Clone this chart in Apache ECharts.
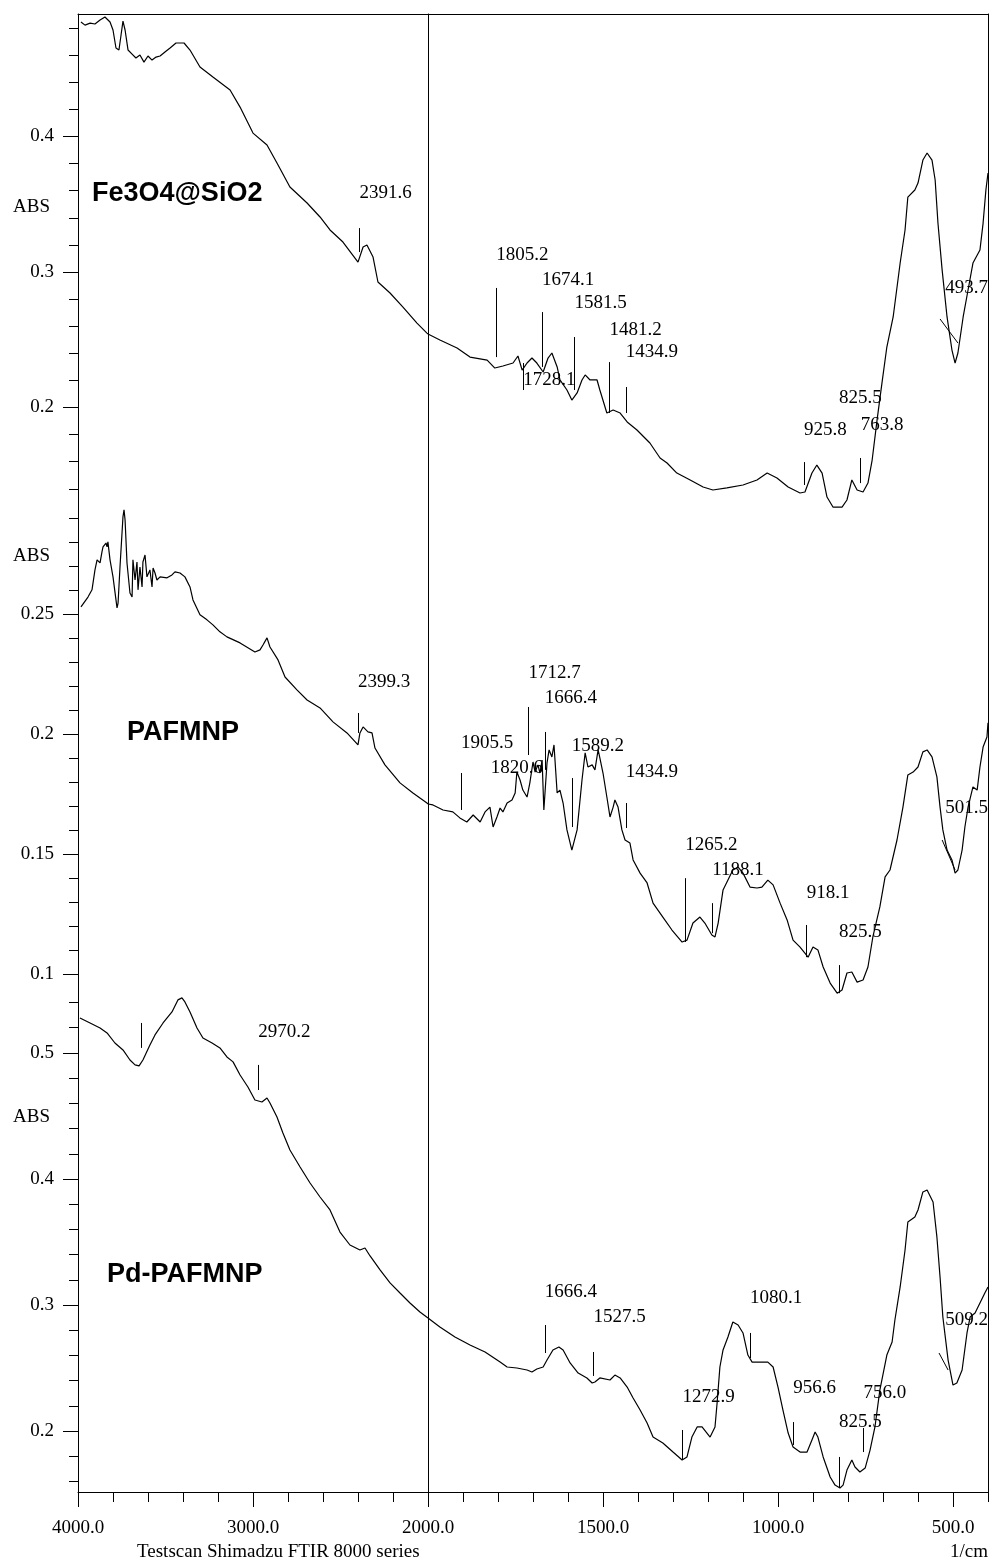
<!DOCTYPE html>
<html><head><meta charset="utf-8">
<script src="https://cdn.jsdelivr.net/npm/echarts@6/dist/echarts.min.js"></script>
<style>html,body{margin:0;padding:0;background:#fff}#c{width:992px;height:1562px}</style>
</head><body><div id="c"></div>
<script>
// ---------- DATA (wavenumber in 1/cm, absorbance) ----------
const feWn = [3983,3960,3931,3903,3874,3846,3817,3800,3783,3766,3754,3743,3731,3714,3691,3669,3646,3623,3600,3577,3554,3531,3503,3474,3440,3394,3360,3303,3229,3131,3074,3000,2920,2863,2789,2691,2617,2560,2486,2400,2371,2349,2314,2286,2217,2143,2063,2006,2000,
 1966,1917,1880,1831,1809,1786,1757,1743,1731,1717,1703,1689,1671,1657,1646,1631,1623,1603,1589,1574,1560,1551,1537,1517,1509,1489,1471,1451,1431,1403,1366,1337,1317,1289,1251,1214,1186,1146,1100,1060,1031,1003,971,937,923,903,889,874,860,843,817,803,789,774,757,743,731,717,703,689,671,651,637,629,609,600,586,574,560,551,543,531,517,503,494,486,471,457,443,423,414,406,400];
const feAbs = [0.4845,0.4822,0.4837,0.4830,0.4859,0.4882,0.4845,0.4786,0.4653,0.4638,0.4749,0.4852,0.4786,0.4638,0.4608,0.4579,0.4601,0.4549,0.4594,0.4564,0.4586,0.4594,0.4623,0.4653,0.4690,0.4690,0.4638,0.4513,0.4439,0.4343,0.4217,0.4025,0.3937,0.3804,0.3627,0.3509,0.3406,0.3310,0.3221,0.3073,0.3184,0.3199,0.3110,0.2926,0.2845,0.2741,0.2623,0.2549,0.2542,
 0.2498,0.2439,0.2372,0.2350,0.2291,0.2306,0.2328,0.2380,0.2276,0.2328,0.2365,0.2328,0.2262,0.2365,0.2402,0.2299,0.2203,0.2129,0.2055,0.2107,0.2203,0.2240,0.2203,0.2203,0.2129,0.1959,0.1981,0.1959,0.1893,0.1834,0.1738,0.1627,0.1590,0.1516,0.1465,0.1413,0.1391,0.1406,0.1428,0.1465,0.1516,0.1479,0.1413,0.1369,0.1376,0.1516,0.1575,0.1516,0.1339,0.1265,0.1265,0.1317,0.1465,0.1391,0.1376,0.1442,0.1612,0.1907,0.2180,0.2446,0.2668,0.3066,0.3310,0.3553,0.3605,0.3656,0.3826,0.3878,0.3826,0.3679,0.3361,0.3014,0.2668,0.2424,0.2328,0.2402,0.2668,0.2867,0.3066,0.3162,0.3361,0.3605,0.3730];

const paWn = [3983,3943,3920,3903,3891,3874,3863,3857,3840,3834,3829,3817,3800,3777,3771,3760,3743,3737,3731,3720,3703,3691,3686,3674,3663,3657,3646,3634,3629,3617,3606,3589,3577,3571,3560,3549,3531,3491,3463,3446,3417,3389,3360,3343,3303,3263,3229,3189,3149,3074,2989,2960,2943,2920,2903,2857,2817,2749,2691,2617,2543,2463,2400,2389,2371,2343,2320,2303,2246,2160,2086,2006,2000,
 1986,1957,1929,1909,1889,1871,1851,1837,1823,1814,1803,1794,1786,1774,1760,1751,1746,1737,1729,1717,1709,1700,1694,1686,1680,1674,1669,1660,1654,1646,1640,1631,1623,1614,1603,1589,1574,1560,1551,1543,1531,1523,1514,1509,1500,1489,1480,1471,1466,1457,1446,1437,1423,1414,1394,1374,1357,1329,1303,1274,1260,1243,1223,1209,1189,1180,1171,1157,1143,1129,1114,1100,1080,1060,1046,1029,1014,994,974,957,937,914,900,886,871,851,831,817,803,789,774,757,743,729,709,694,680,660,643,629,614,600,586,574,560,546,537,529,517,503,494,486,474,466,457,443,431,423,414,403,400];
const paAbs = [0.2529,0.2570,0.2600,0.2683,0.2725,0.2712,0.2758,0.2779,0.2795,0.2779,0.2800,0.2725,0.2654,0.2525,0.2545,0.2695,0.2904,0.2933,0.2891,0.2712,0.2587,0.2570,0.2725,0.2641,0.2716,0.2600,0.2695,0.2612,0.2716,0.2745,0.2654,0.2683,0.2612,0.2691,0.2670,0.2641,0.2654,0.2650,0.2662,0.2675,0.2670,0.2654,0.2612,0.2558,0.2496,0.2475,0.2454,0.2425,0.2404,0.2379,0.2341,0.2350,0.2370,0.2400,0.2362,0.2308,0.2237,0.2183,0.2141,0.2108,0.2050,0.2004,0.1954,0.2004,0.2029,0.2008,0.2004,0.1941,0.1871,0.1796,0.1754,0.1712,0.1708,
 0.1704,0.1683,0.1675,0.1650,0.1633,0.1662,0.1633,0.1675,0.1695,0.1612,0.1654,0.1691,0.1675,0.1712,0.1725,0.1754,0.1841,0.1808,0.1766,0.1737,0.1796,0.1883,0.1841,0.1871,0.1837,0.1891,0.1683,0.1879,0.1933,0.1904,0.1954,0.1754,0.1766,0.1712,0.1600,0.1516,0.1600,0.1808,0.1921,0.1862,0.1871,0.1850,0.1933,0.1900,0.1837,0.1737,0.1654,0.1695,0.1725,0.1695,0.1600,0.1558,0.1545,0.1475,0.1420,0.1379,0.1295,0.1237,0.1183,0.1133,0.1141,0.1212,0.1237,0.1212,0.1162,0.1154,0.1212,0.1350,0.1391,0.1433,0.1445,0.1420,0.1362,0.1358,0.1362,0.1391,0.1371,0.1295,0.1225,0.1141,0.1112,0.1070,0.1112,0.1100,0.1029,0.0962,0.0920,0.0933,0.1004,0.1008,0.0966,0.0975,0.1029,0.1154,0.1279,0.1404,0.1433,0.1558,0.1695,0.1829,0.1841,0.1862,0.1925,0.1933,0.1904,0.1821,0.1695,0.1600,0.1516,0.1475,0.1420,0.1433,0.1516,0.1612,0.1695,0.1779,0.1766,0.1862,0.1945,0.1987,0.2046];

const pdWn = [3989,3931,3874,3834,3789,3743,3703,3674,3651,3629,3589,3560,3514,3463,3429,3406,3389,3360,3320,3286,3234,3189,3149,3114,3074,3029,2989,2949,2920,2903,2863,2829,2789,2731,2674,2617,2560,2503,2446,2389,2360,2331,2274,2217,2160,2103,2046,2000,
 1966,1923,1880,1837,1794,1774,1746,1717,1703,1689,1671,1660,1643,1626,1614,1594,1571,1546,1531,1523,1509,1480,1466,1451,1431,1414,1394,1374,1357,1329,1300,1274,1260,1246,1231,1217,1203,1194,1180,1174,1166,1157,1143,1129,1114,1100,1086,1074,1057,1029,1014,1000,986,971,957,937,917,903,894,886,871,851,837,823,814,803,789,780,766,751,737,723,709,689,674,666,651,637,629,609,600,586,574,557,546,537,529,514,500,489,474,460,451,437,423,409,400];
const pdAbs = [0.5278,0.5238,0.5198,0.5159,0.5079,0.5024,0.4944,0.4905,0.4897,0.4944,0.5063,0.5143,0.5238,0.5325,0.5421,0.5437,0.5405,0.5325,0.5198,0.5119,0.5079,0.5040,0.4968,0.4929,0.4825,0.4730,0.4627,0.4611,0.4643,0.4603,0.4492,0.4365,0.4230,0.4095,0.3968,0.3857,0.3754,0.3579,0.3476,0.3436,0.3452,0.3389,0.3278,0.3175,0.3095,0.3016,0.2944,0.2897,
 0.2826,0.2746,0.2682,0.2627,0.2547,0.2508,0.2500,0.2484,0.2468,0.2492,0.2508,0.2563,0.2643,0.2667,0.2643,0.2540,0.2460,0.2421,0.2381,0.2389,0.2421,0.2405,0.2444,0.2421,0.2349,0.2262,0.2167,0.2064,0.1952,0.1905,0.1833,0.1770,0.1794,0.1952,0.2032,0.2032,0.1984,0.1952,0.2032,0.2222,0.2508,0.2643,0.2746,0.2865,0.2841,0.2778,0.2603,0.2547,0.2547,0.2547,0.2508,0.2349,0.2167,0.1984,0.1873,0.1833,0.1833,0.1929,0.1992,0.1952,0.1794,0.1635,0.1571,0.1548,0.1571,0.1690,0.1770,0.1714,0.1675,0.1706,0.1849,0.2032,0.2325,0.2603,0.2706,0.2881,0.3143,0.3436,0.3659,0.3698,0.3754,0.3897,0.3913,0.3817,0.3540,0.3222,0.2905,0.2563,0.2365,0.2381,0.2484,0.2778,0.2905,0.2937,0.3016,0.3095,0.3143];

// peak picks: wavenumber, marker line top/bottom (abs), label level (abs)
const fePeakWn    = [2391.6, 1805.2, 1728.1, 1674.1, 1581.5, 1481.2, 1434.9, 925.8, 825.5, 763.8];
const fePeakTop   = [0.3324, 0.2882, 0.2328, 0.2704, 0.2520, 0.2335, 0.2151, 0.1597, 0.1811, 0.1627];
const fePeakBot   = [0.3147, 0.2372, 0.2129, 0.2299, 0.2129, 0.1959, 0.1959, 0.1428, 0.1317, 0.1442];
const fePeakLab   = [0.3583, 0.3125, 0.2203, 0.2941, 0.2771, 0.2572, 0.2409, 0.1834, 0.2070, 0.1871];
const feEdgePeak  = [493.7, 0.2882];               // label value, label level
const feEdgeLine  = [537, 0.2653, 486, 0.2476];    // tilted pick line

const paPeakWn    = [2399.3, 1905.5, 1820.6, 1712.7, 1666.4, 1589.2, 1434.9, 1265.2, 1188.1, 918.1, 825.5];
const paPeakTop   = [0.2087, 0.1837, null,   0.2112, 0.2008, 0.1816, 0.1712, 0.1399, 0.1295, 0.1204, 0.1037];
const paPeakBot   = [0.2004, 0.1683, null,   0.1912, 0.1850, 0.1612, 0.1608, 0.1133, 0.1170, 0.1070, 0.0920];
const paPeakLab   = [0.2216, 0.1962, 0.1858, 0.2254, 0.2150, 0.1950, 0.1841, 0.1537, 0.1433, 0.1337, 0.1175];
const paEdgePeak  = [501.5, 0.1691];
const paEdgeLine  = [531, 0.1558, 494, 0.1433];

const pdPeakWn    = [3640, 2970.2, 1666.4, 1527.5, 1272.9, 1080.1, 956.6, 825.5, 756.0];
const pdPeakTop   = [0.5238, 0.4905, 0.2841, 0.2627, 0.2008, 0.2778, 0.2071, 0.1794, 0.2024];
const pdPeakBot   = [0.5040, 0.4706, 0.2619, 0.2437, 0.1770, 0.2579, 0.1889, 0.1548, 0.1833];
const pdPeakLab   = [null,   0.5167, 0.3103, 0.2905, 0.2270, 0.3056, 0.2341, 0.2071, 0.2302];
const pdEdgePeak  = [509.2, 0.2881];
const pdEdgeLine  = [540, 0.2619, 514, 0.2484];

// axis ranges and ticks
const feRange = [0.1354, 0.4904];
const paRange = [0.0904, 0.2995];
const pdRange = [0.1516, 0.5444];
const feMajor = [0.2, 0.3, 0.4];
const feMinor = [0.14,0.16,0.18,0.22,0.24,0.26,0.28,0.32,0.34,0.36,0.38,0.42,0.44,0.46,0.48];
const paMajor = [0.1, 0.15, 0.2, 0.25];
const paMinor = [0.11,0.12,0.13,0.14,0.16,0.17,0.18,0.19,0.21,0.22,0.23,0.24,0.26,0.27,0.28,0.29];
const pdMajor = [0.2, 0.3, 0.4, 0.5];
const pdMinor = [0.16,0.18,0.22,0.24,0.26,0.28,0.32,0.34,0.36,0.38,0.42,0.44,0.46,0.48,0.52,0.54];
const xMajorLeft  = [4000, 3000, 2000];
const xMinorLeft  = [3800, 3600, 3400, 3200, 2800, 2600, 2400, 2200];
const xMajorRight = [1500, 1000, 500];
const xMinorRight = [1900,1800,1700,1600,1400,1300,1200,1100,900,800,700,600,400];
const sampleNames = ['Fe3O4@SiO2', 'PAFMNP', 'Pd-PAFMNP'];

// ---------- CHART ----------
const SERIF = 'Liberation Serif';
const SANS = 'Liberation Sans';
const FS = 19;
const BLACK = '#000';

const panels = [
  {wn: feWn, abs: feAbs, range: feRange, major: feMajor, minor: feMinor,
   pk: [fePeakWn, fePeakTop, fePeakBot, fePeakLab], edge: feEdgePeak, edgeLine: feEdgeLine, top: 14, height: 481},
  {wn: paWn, abs: paAbs, range: paRange, major: paMajor, minor: paMinor,
   pk: [paPeakWn, paPeakTop, paPeakBot, paPeakLab], edge: paEdgePeak, edgeLine: paEdgeLine, top: 495, height: 502},
  {wn: pdWn, abs: pdAbs, range: pdRange, major: pdMajor, minor: pdMinor,
   pk: [pdPeakWn, pdPeakTop, pdPeakBot, pdPeakLab], edge: pdEdgePeak, edgeLine: pdEdgeLine, top: 997, height: 495}
];

const grid = [], xAxis = [], yAxis = [], series = [];
const lineSt = {color: BLACK, width: 1};
const labFont = {color: BLACK, fontFamily: SERIF, fontSize: FS, opacity: 1};
const fmtY = v => String(parseFloat(Number(v).toFixed(2)));
const fmtX = v => Number(v).toFixed(1);

panels.forEach((p, i) => {
  const isTop = i === 0, isBottom = i === panels.length - 1;
  const gL = grid.length; grid.push({left: 78, width: 350, top: p.top, height: p.height});
  const gR = grid.length; grid.push({left: 428, width: 560, top: p.top, height: p.height});

  // X axes (data)
  const xL = xAxis.length;
  xAxis.push({gridIndex: gL, type: 'value', min: 2000, max: 4000, inverse: true, position: 'bottom', show: isBottom,
    axisLine: {onZero: false, lineStyle: lineSt}, splitLine: {show: false},
    axisTick: {show: true, length: 15, customValues: xMajorLeft, lineStyle: lineSt},
    axisLabel: {show: true, customValues: xMajorLeft, formatter: fmtX, margin: 27, ...labFont}});
  const xR = xAxis.length;
  xAxis.push({gridIndex: gR, type: 'value', min: 400, max: 2000, inverse: true, position: 'bottom', show: isBottom,
    axisLine: {onZero: false, lineStyle: lineSt}, splitLine: {show: false},
    axisTick: {show: true, length: 15, customValues: xMajorRight, lineStyle: lineSt},
    axisLabel: {show: true, customValues: xMajorRight, formatter: fmtX, margin: 27, ...labFont}});
  if (isBottom) {
    xAxis.push({gridIndex: gL, type: 'value', min: 2000, max: 4000, inverse: true, position: 'bottom',
      axisLine: {show: false, onZero: false}, splitLine: {show: false},
      axisTick: {show: true, length: 10, customValues: xMinorLeft, lineStyle: lineSt}, axisLabel: {show: false}});
    xAxis.push({gridIndex: gR, type: 'value', min: 400, max: 2000, inverse: true, position: 'bottom',
      axisLine: {show: false, onZero: false}, splitLine: {show: false},
      axisTick: {show: true, length: 10, customValues: xMinorRight, lineStyle: lineSt}, axisLabel: {show: false}});
  }
  if (isTop) {
    [[gL, 2000, 4000], [gR, 400, 2000]].forEach(([g, mn, mx]) => xAxis.push({gridIndex: g, type: 'value', min: mn, max: mx, inverse: true,
      position: 'top', axisLine: {show: true, onZero: false, lineStyle: lineSt}, axisTick: {show: false}, axisLabel: {show: false}, splitLine: {show: false}}));
  }

  // Y axes
  const yL = yAxis.length;
  yAxis.push({gridIndex: gL, type: 'value', min: p.range[0], max: p.range[1], position: 'left',
    axisLine: {show: true, onZero: false, lineStyle: lineSt}, splitLine: {show: false},
    axisTick: {show: true, length: 15, customValues: p.major, lineStyle: lineSt},
    axisLabel: {show: true, customValues: p.major, formatter: fmtY, margin: 24, ...labFont}});
  yAxis.push({gridIndex: gL, type: 'value', min: p.range[0], max: p.range[1], position: 'left',
    axisLine: {show: false, onZero: false}, splitLine: {show: false},
    axisTick: {show: true, length: 9, customValues: p.minor, lineStyle: lineSt}, axisLabel: {show: false}});
  const yR = yAxis.length;
  yAxis.push({gridIndex: gR, type: 'value', min: p.range[0], max: p.range[1], position: 'left',
    axisLine: {show: true, onZero: false, lineStyle: lineSt}, splitLine: {show: false},
    axisTick: {show: false}, axisLabel: {show: false}});
  yAxis.push({gridIndex: gR, type: 'value', min: p.range[0], max: p.range[1], position: 'right',
    axisLine: {show: true, onZero: false, lineStyle: lineSt}, splitLine: {show: false},
    axisTick: {show: false}, axisLabel: {show: false}});

  // trace split at 2000 1/cm
  const n = Math.min(p.wn.length, p.abs.length);
  const leftData = [], rightData = [];
  for (let k = 0; k < n; k++) {
    if (p.wn[k] >= 2000) leftData.push([p.wn[k], p.abs[k]]);
    if (p.wn[k] <= 2000) rightData.push([p.wn[k], p.abs[k]]);
  }
  // peak pick lines
  const [pw, pt, pb, pl] = p.pk;
  const mlL = [], mlR = [], labL = [], labR = [];
  pw.forEach((w, k) => {
    if (pt[k] != null && pb[k] != null) {
      (w >= 2000 ? mlL : mlR).push([{coord: [w, pt[k]]}, {coord: [w, pb[k]]}]);
    }
    if (pl[k] != null) (w >= 2000 ? labL : labR).push([w, pl[k], w.toFixed(1)]);
  });
  mlR.push([{coord: [p.edgeLine[0], p.edgeLine[1]]}, {coord: [p.edgeLine[2], p.edgeLine[3]]}]);
  const markLineCfg = data => ({symbol: ['none', 'none'], silent: true, animation: false,
    label: {show: false}, lineStyle: {color: BLACK, width: 1, type: 'solid', opacity: 1}, emphasis: {disabled: true}, data});

  const lineSeries = (xi, yi, data, ml) => ({type: 'line', xAxisIndex: xi, yAxisIndex: yi, data, showSymbol: false,
    symbol: 'none', silent: true, animation: false, clip: false, lineStyle: {color: BLACK, width: 1.2}, emphasis: {disabled: true},
    markLine: markLineCfg(ml)});
  series.push(lineSeries(xL, yL, leftData, mlL));
  series.push(lineSeries(xR, yR, rightData, mlR));

  const labelSeries = (xi, yi, data, pos) => ({type: 'scatter', xAxisIndex: xi, yAxisIndex: yi, data, symbolSize: 0,
    itemStyle: {color: BLACK, opacity: 1}, silent: true, animation: false, clip: false, emphasis: {disabled: true},
    label: {show: true, position: pos, distance: 0, formatter: q => q.value[2], ...labFont}});
  series.push(labelSeries(xL, yL, labL, 'right'));
  series.push(labelSeries(xR, yR, labR, 'right'));
  // edge label, right-aligned at the spectrum end
  series.push(labelSeries(xR, yR, [[400, p.edge[1], p.edge[0].toFixed(1)]], 'left'));
});

const txt = (x, y, text, font, align) => ({type: 'text', x, y, silent: true,
  style: {text, font, fill: BLACK, align: align || 'left', verticalAlign: 'middle'}});
const graphic = [
  txt(13, 207, 'ABS', `${FS}px "${SERIF}"`),
  txt(13, 556, 'ABS', `${FS}px "${SERIF}"`),
  txt(13, 1117, 'ABS', `${FS}px "${SERIF}"`),
  txt(92, 194, sampleNames[0], `bold 27px "${SANS}"`),
  txt(127, 733, sampleNames[1], `bold 27px "${SANS}"`),
  txt(107, 1275, sampleNames[2], `bold 27px "${SANS}"`),
  txt(137, 1552, 'Testscan Shimadzu FTIR 8000 series', `${FS}px "${SERIF}"`),
  txt(988, 1552, '1/cm', `${FS}px "${SERIF}"`, 'right')
];

const chart = echarts.init(document.getElementById('c'), null, {renderer: 'canvas'});
chart.setOption({backgroundColor: '#fff', animation: false, grid, xAxis, yAxis, series, graphic});
</script>
</body></html>
